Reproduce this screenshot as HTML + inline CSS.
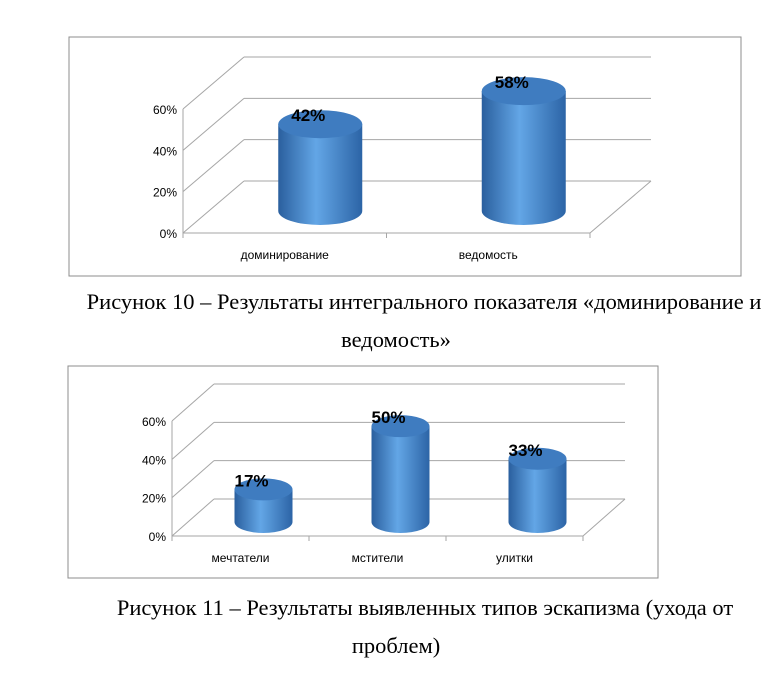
<!DOCTYPE html>
<html><head><meta charset="utf-8"><style>
body{margin:0;background:#fff;width:777px;height:673px;overflow:hidden}
svg{position:absolute;left:0;top:0}
.cap{font-family:"Liberation Serif",serif;font-size:22.5px;fill:#000}
.ax{font-family:"Liberation Sans",sans-serif;font-size:12px;fill:#000}
.val{font-family:"Liberation Sans",sans-serif;font-size:17px;font-weight:bold;fill:#000}
</style></head><body>
<svg id="s" width="777" height="673">
<defs><linearGradient id="cyl" x1="0" x2="1" y1="0" y2="0">
<stop offset="0" stop-color="#2a5f9e"/><stop offset="0.45" stop-color="#63a6e6"/><stop offset="1" stop-color="#2c64a6"/></linearGradient></defs>
<text class="cap" x="424" y="309" text-anchor="middle">Рисунок 10 – Результаты интегрального показателя «доминирование и</text>
<text class="cap" x="396" y="347" text-anchor="middle">ведомость»</text>
<text class="cap" x="425" y="615" text-anchor="middle">Рисунок 11 – Результаты выявленных типов эскапизма (ухода от</text>
<text class="cap" x="396" y="653" text-anchor="middle">проблем)</text>
</svg>
<script>
const cats1=["доминирование","ведомость"];
const vals1=[42,58];
const cats2=["мечтатели","мстители","улитки"];
const vals2=[17,50,33];
const ticks=["0%","20%","40%","60%"];
const tickVals=[0,20,40,60];
const NS="http://www.w3.org/2000/svg";
const svg=document.getElementById("s");
function el(t,a,p){const e=document.createElementNS(NS,t);for(const k in a)e.setAttribute(k,a[k]);(p||svg).appendChild(e);return e;}
function chart(c,cats,vals,id){
  const g=el("g",{});
  
  
  el("rect",{x:c.fx,y:c.fy,width:c.fw,height:c.fh,fill:"#fff",stroke:"#8c8c8c","stroke-width":1},g);
  const sc=c.h/60;
  const yF=v=>c.y0-v*sc, yB=v=>c.y0-c.dy-v*sc;
  tickVals.forEach((v,i)=>{
    el("line",{x1:c.x0,y1:yF(v),x2:c.x0+c.dx,y2:yB(v),stroke:"#a6a6a6"},g);
    el("line",{x1:c.x0+c.dx,y1:yB(v),x2:c.x1+c.dx,y2:yB(v),stroke:"#a6a6a6"},g);
    const t=el("text",{class:"ax",x:c.x0-6,y:yF(v)+5,"text-anchor":"end"},g);t.textContent=ticks[i];
    
    
  });
  el("line",{x1:c.x0,y1:yF(0),x2:c.x0,y2:yF(60),stroke:"#a6a6a6"},g);
  el("line",{x1:c.x0,y1:yF(0),x2:c.x1,y2:yF(0),stroke:"#a6a6a6"},g);
  el("line",{x1:c.x1,y1:yF(0),x2:c.x1+c.dx,y2:yB(0),stroke:"#a6a6a6"},g);
  const n=cats.length,bw=(c.x1-c.x0)/n;
  for(let i=0;i<=n;i++)el("line",{x1:c.x0+i*bw,y1:yF(0),x2:c.x0+i*bw,y2:yF(0)+5,stroke:"#a6a6a6"},g);
  cats.forEach((cat,i)=>{
    const cx=c.x0+bw*(i+0.5)+c.dx/2+c.shift, base=c.base, top=base-vals[i]*sc, rx=c.rx, ry=c.ry;
    const b=el("g",{},g);
    
    
    el("path",{d:`M${cx-rx},${top} L${cx-rx},${base} A${rx},${ry} 0 0 0 ${cx+rx},${base} L${cx+rx},${top} Z`,fill:"url(#cyl)"},b);
    el("ellipse",{cx:cx,cy:top,rx:rx,ry:ry,fill:"#3f7cc0"},b);
    const v=el("text",{class:"val",x:cx-12,y:top-3,"text-anchor":"middle"},g);v.textContent=vals[i]+"%";
    
    
    const t=el("text",{class:"ax",x:c.x0+bw*(i+0.5),y:yF(0)+26,"text-anchor":"middle"},g);t.textContent=cat;
    
    
  });
}
chart({fx:69,fy:37,fw:672,fh:239,x0:183,x1:590,y0:233,dx:61,dy:52,h:124,base:211,rx:42,ry:14,shift:5},cats1,vals1,"chart-dominance");
chart({fx:68,fy:366,fw:590,fh:212,x0:172,x1:583,y0:536,dx:42,dy:37,h:115,base:522,rx:29,ry:11,shift:2},cats2,vals2,"chart-escapism");
</script>
</body></html>
